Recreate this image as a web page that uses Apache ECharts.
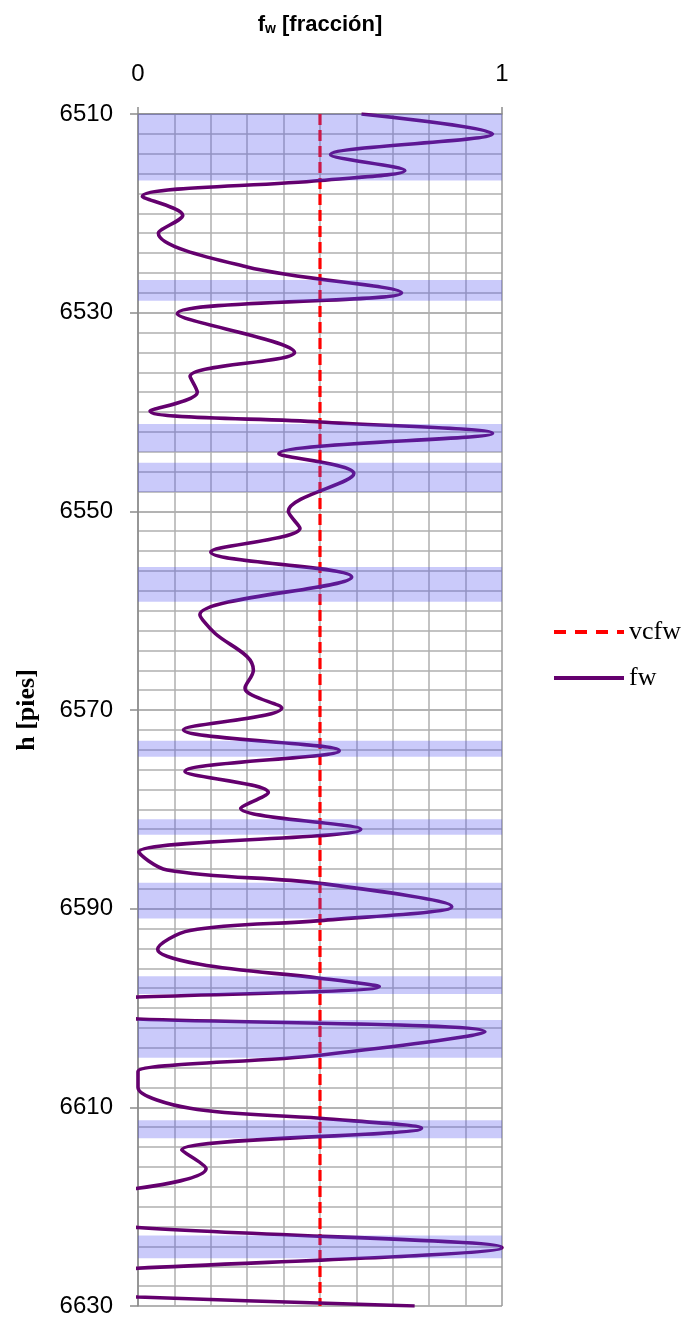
<!DOCTYPE html>
<html>
<head>
<meta charset="utf-8">
<script src="https://cdn.jsdelivr.net/npm/echarts@6/dist/echarts.min.js"></script>
<style>
html,body{margin:0;padding:0;background:#fff;}
#chart{width:681px;height:1318px;}
</style>
</head>
<body>
<div id="chart"></div>
<script>
// Depth (ft) of each read point of the fw curve
const depth = [
  6510.0, 6512.0, 6514.1, 6515.7, 6516.7, 6518.3, 6520.2, 6522.0, 6525.4, 6528.0,
  6530.1, 6534.0, 6536.4, 6538.0, 6539.9, 6541.0, 6542.15, 6544.2, 6546.2, 6550.0,
  6551.7, 6554.1, 6556.6, 6560.4, 6562.3, 6564.6, 6566.0, 6567.8, 6569.8, 6572.0,
  6574.1, 6576.2, 6578.3, 6579.9, 6582.0, 6584.3, 6586.1, 6587.45, 6589.8, 6591.2,
  6592.2, 6594.1, 6595.6, 6597.0, 6597.85, 6598.9, 6600.0, 6601.1, 6602.4, 6604.75,
  6606.4, 6607.2, 6608.0, 6610.1, 6611.1, 6612.1, 6614.3, 6616.15, 6618.15, 6620.1,
  6622.1, 6624.1, 6626.2, 6627.7, 6629.1, 6630.0
];
// fw (fraction) at each depth; values below 0 fall outside the axis and are clipped
const fw = [
  0.614, 0.974, 0.529, 0.733, 0.500, 0.012, 0.123, 0.056, 0.300, 0.724,
  0.108, 0.430, 0.143, 0.163, 0.033, 0.500, 0.974, 0.387, 0.593, 0.413,
  0.445, 0.200, 0.587, 0.170, 0.212, 0.299, 0.317, 0.294, 0.395, 0.125,
  0.553, 0.129, 0.358, 0.282, 0.612, 0.002, 0.080, 0.500, 0.862, 0.500,
  0.143, 0.054, 0.170, 0.500, 0.663, 0.000, -0.800, 0.000, 0.953, 0.500,
  0.000, 0.000, 0.000, 0.143, 0.500, 0.779, 0.120, 0.187, 0.000, -0.600,
  0.000, 1.000, 0.000, -0.900, 0.000, 0.760
];
// cut-off value of fw
const vcfw = 0.5;
const depthRange = [6510, 6630];
// shaded intervals (top, bottom) in ft
const bandTop =    [6510.0, 6526.7, 6541.2, 6545.1, 6555.6, 6573.1, 6581.0, 6587.4, 6596.8, 6601.2, 6611.3, 6622.9];
const bandBottom = [6516.7, 6528.8, 6544.0, 6548.05, 6559.1, 6574.7, 6582.55, 6591.0, 6598.6, 6605.0, 6613.1, 6625.2];
const xTickLabels = ['0', '1'];
const yTickLabels = ['6510', '6530', '6550', '6570', '6590', '6610', '6630'];

const fwData = depth.map((d, i) => [fw[i], d]);
const vcfwData = depthRange.map(d => [vcfw, d]);
const bandData = bandTop.map((t, i) => [{ xAxis: 0, yAxis: t }, { xAxis: 1, yAxis: bandBottom[i] }]);

const chart = echarts.init(document.getElementById('chart'), null, { renderer: 'canvas' });
chart.setOption({
  animation: false,
  backgroundColor: '#ffffff',
  grid: { left: 138, right: 179, top: 114, bottom: 12, containLabel: false },
  legend: {
    data: [
      { name: 'vcfw', lineStyle: { width: 4, type: [12, 9] } },
      { name: 'fw', lineStyle: { width: 4 } }
    ],
    orient: 'vertical',
    left: 547,
    top: 614,
    itemWidth: 70,
    itemHeight: 14,
    itemGap: 20,
    itemStyle: { opacity: 0 },
    textStyle: { fontFamily: 'Liberation Serif', fontSize: 26, color: '#000' }
  },
  xAxis: {
    type: 'value',
    position: 'top',
    min: 0, max: 1, interval: 1,
    name: '{a|f}{b|w}{a| [fracción]}',
    nameLocation: 'middle',
    nameGap: 78,
    nameTextStyle: {
      rich: {
        a: { fontFamily: 'Liberation Sans', fontWeight: 'bold', fontSize: 22, color: '#000' },
        b: { fontFamily: 'Liberation Sans', fontWeight: 'bold', fontSize: 14, color: '#000', padding: [8, 0, 0, 0] }
      }
    },
    axisLine: { show: true, lineStyle: { color: '#8c8c8c', width: 1.5 } },
    axisTick: { show: true, length: 7, inside: false, lineStyle: { color: '#8c8c8c', width: 1.5 } },
    axisLabel: {
      margin: 28,
      fontFamily: 'Liberation Sans', fontSize: 24, color: '#000',
      formatter: v => xTickLabels[Math.round(v)]
    },
    splitLine: { show: true, lineStyle: { color: '#9a9a9a', width: 1.5 } },
    minorTick: { show: false, splitNumber: 10 },
    minorSplitLine: { show: true, lineStyle: { color: '#b0b0b0', width: 1.5 } }
  },
  yAxis: {
    type: 'value',
    inverse: true,
    min: depthRange[0], max: depthRange[1], interval: 20,
    name: 'h [pies]',
    nameLocation: 'middle',
    nameGap: 98,
    nameRotate: 90,
    nameTextStyle: { fontFamily: 'Liberation Serif', fontWeight: 'bold', fontSize: 26, color: '#000' },
    axisLine: { show: true, lineStyle: { color: '#8c8c8c', width: 1.5 } },
    axisTick: { show: true, length: 8, inside: false, lineStyle: { color: '#8c8c8c', width: 1.5 } },
    axisLabel: {
      margin: 25,
      fontFamily: 'Liberation Sans', fontSize: 24, color: '#000',
      formatter: v => yTickLabels[Math.round((v - depthRange[0]) / 20)]
    },
    splitLine: { show: true, lineStyle: { color: '#9a9a9a', width: 1.5 } },
    minorTick: { show: false, splitNumber: 10 },
    minorSplitLine: { show: true, lineStyle: { color: '#b0b0b0', width: 1.5 } }
  },
  series: [
    {
      name: 'vcfw',
      type: 'line',
      data: vcfwData,
      symbol: 'none',
      z: 3,
      lineStyle: { color: '#ff0000', width: 3.2, type: [11, 5] },
      itemStyle: { color: '#ff0000' }
    },
    {
      name: 'fw',
      type: 'line',
      data: fwData,
      symbol: 'none',
      smooth: 0.35,
      clip: true,
      z: 4,
      lineStyle: { color: '#64006e', width: 3.6 },
      itemStyle: { color: '#64006e' }
    },
    {
      name: 'bands',
      type: 'line',
      data: [],
      symbol: 'none',
      z: 10,
      markArea: {
        silent: true,
        z: 10,
        itemStyle: { color: 'rgba(80,80,240,0.3)', borderWidth: 0 },
        data: bandData
      }
    }
  ]
});
</script>
</body>
</html>
